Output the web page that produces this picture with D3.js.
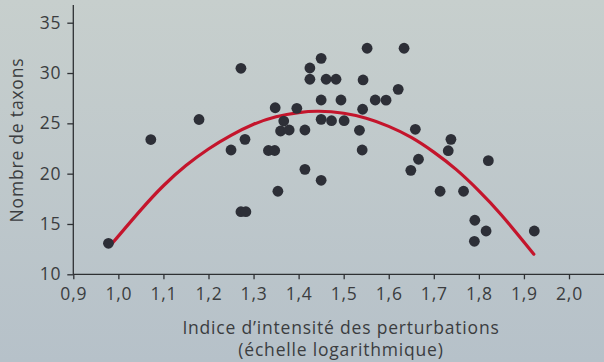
<!DOCTYPE html>
<html><head><meta charset="utf-8">
<script src="https://cdn.jsdelivr.net/npm/d3@7"></script>
<style>html,body{margin:0;padding:0;overflow:hidden;}svg{display:block;}</style>
</head><body><svg id="c" width="604" height="362"></svg>
<script>
// Data
const xValues = [0.978,1.072,1.179,1.250,1.272,1.281,1.272,1.283,1.333,1.347,1.348,1.354,1.360,1.367,1.379,1.396,1.414,1.414,1.425,1.425,1.450,1.450,1.450,1.450,1.461,1.473,1.483,1.494,1.501,1.535,1.542,1.541,1.543,1.552,1.570,1.594,1.621,1.634,1.649,1.659,1.666,1.714,1.732,1.738,1.766,1.790,1.791,1.816,1.821,1.923];
const yValues = [13.08,23.39,25.38,22.35,30.47,23.41,16.22,16.22,22.30,22.30,26.55,18.25,24.24,25.23,24.34,26.49,24.34,20.43,30.50,29.38,31.46,27.32,25.40,19.34,29.38,25.26,29.38,27.32,25.26,24.31,26.40,22.35,29.31,32.46,27.32,27.30,28.38,32.46,20.33,24.41,21.43,18.25,22.28,23.41,18.25,13.28,15.37,14.30,21.29,14.30];
const curveX = [0.985,1.05,1.10,1.15,1.20,1.25,1.30,1.35,1.40,1.445,1.50,1.55,1.60,1.65,1.70,1.75,1.80,1.85,1.922];
const curveY = [13.0,16.4,18.8,20.8,22.45,23.8,24.9,25.65,26.07,26.2,26.0,25.5,24.7,23.6,22.14,20.4,18.3,15.9,12.0];
const xTicks = [0.9,1.0,1.1,1.2,1.3,1.4,1.5,1.6,1.7,1.8,1.9,2.0];
const yTicks = [10,15,20,25,30,35];
const xTitle1 = "Indice d’intensité des perturbations";
const xTitle2 = "(échelle logarithmique)";
const yTitle = "Nombre de taxons";

const svg = d3.select("#c");
const W = 604, H = 362;
const defs = svg.append("defs");
const g = defs.append("linearGradient").attr("id","bg").attr("x1",0).attr("y1",0).attr("x2",0).attr("y2",1);
g.append("stop").attr("offset","0%").attr("stop-color","#c7cfcd");
g.append("stop").attr("offset","100%").attr("stop-color","#b6c1c9");
svg.append("rect").attr("width",W).attr("height",H).attr("fill","url(#bg)");

const x = d3.scaleLinear().domain([0.9,2.0]).range([73.3,569]);
const y = d3.scaleLinear().domain([10,35]).range([274.3,22.7]);
const fmt = d => d3.format(".1f")(d).replace(".",",");
const txt = "#3b3d40";
const font = "'Open Sans', sans-serif";
const fs = "17.5px", ls = "0.8px";

// x axis
const xa = svg.append("g").attr("transform",`translate(0,${y(10)})`)
  .call(d3.axisBottom(x).tickValues(xTicks).tickFormat(fmt).tickSize(5).tickPadding(8).tickSizeOuter(0));
xa.select(".domain").attr("d",`M${x(0.9)},0H604`);
// y axis
const ya = svg.append("g").attr("transform",`translate(${x(0.9)},0)`)
  .call(d3.axisLeft(y).tickValues(yTicks).tickSize(6).tickPadding(6).tickSizeOuter(0));
ya.select(".domain").attr("d",`M0,${y(10)}V5`);
[xa,ya].forEach(a=>{
  a.selectAll(".domain,.tick line").attr("stroke","#2e3033").attr("stroke-width",1.3);
  a.selectAll("text").attr("fill",txt).style("font-family",font).style("font-size",fs).style("letter-spacing",ls);
});

// curve
const pts = curveX.map((d,i)=>[d,curveY[i]]);
svg.append("path").datum(pts)
  .attr("d",d3.line().x(d=>x(d[0])).y(d=>y(d[1])).curve(d3.curveNatural))
  .attr("fill","none").attr("stroke","#c4152c").attr("stroke-width",3.2).attr("stroke-linecap","round");

// points
svg.append("g").selectAll("circle").data(xValues.map((d,i)=>[d,yValues[i]])).join("circle")
  .attr("cx",d=>x(d[0])).attr("cy",d=>y(d[1])).attr("r",5.4).attr("fill","#2d2f37");

// titles
const t = (s)=>s.attr("fill",txt).style("font-family",font).style("font-size",fs).style("letter-spacing",ls).attr("text-anchor","middle");
svg.append("text").attr("x",341).attr("y",334).call(t).text(xTitle1);
svg.append("text").attr("x",341).attr("y",356).call(t).text(xTitle2);
svg.append("text").attr("transform","translate(23,140) rotate(-90)").call(t).text(yTitle);
</script></body></html>
